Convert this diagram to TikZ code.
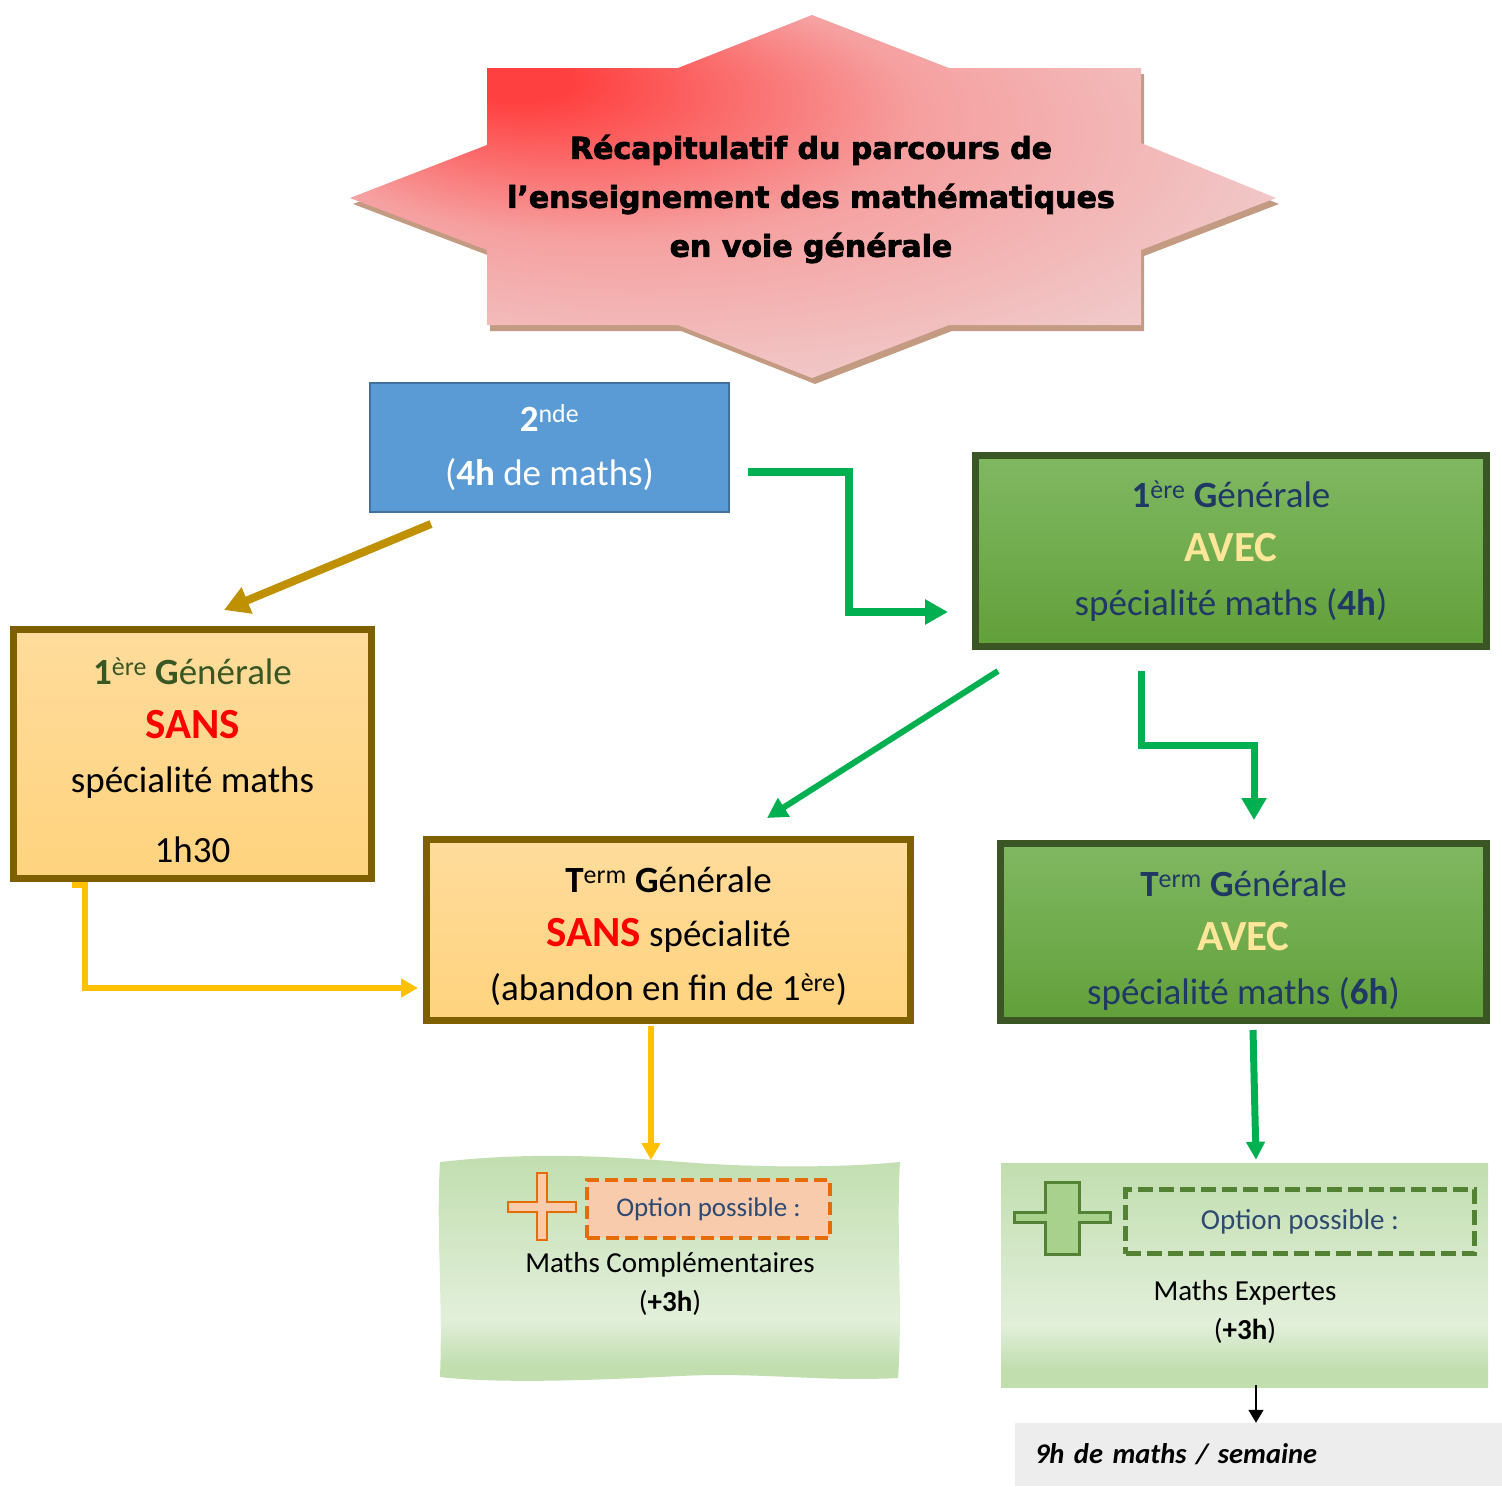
\documentclass[tikz,border=0pt]{standalone}
\usepackage{fontspec}
\setmainfont{Carlito}
\newfontfamily\titlefont{DejaVu Sans Bold}[FakeBold=2.6]
\usetikzlibrary{positioning}
\usetikzlibrary{arrows.meta}
\usetikzlibrary{calc}

\definecolor{bleuSeconde}{HTML}{5B9BD5}
\definecolor{bleuBord}{HTML}{41719C}
\definecolor{orangeHaut}{HTML}{FFDC9C}
\definecolor{orangeBas}{HTML}{FFD37E}
\definecolor{brunBord}{HTML}{7F6000}
\definecolor{vertHaut}{HTML}{80B862}
\definecolor{vertBas}{HTML}{62A03A}
\definecolor{vertBord}{HTML}{3B5524}
\definecolor{vertTexte}{HTML}{385723}
\definecolor{bleuTexte}{HTML}{1F3864}
\definecolor{bleuOption}{HTML}{2E4A70}
\definecolor{jauneAvec}{HTML}{FFE699}
\definecolor{vertFleche}{HTML}{00B050}
\definecolor{orFleche}{HTML}{BF9000}
\definecolor{jauneFleche}{HTML}{FFC000}
\definecolor{vertOpt}{HTML}{C1DEAF}
\definecolor{vertOptClair}{HTML}{E2EFDA}
\definecolor{peche}{HTML}{F8CBAD}
\definecolor{orangeOpt}{HTML}{E46C0A}
\definecolor{vertPlus}{HTML}{A9D18E}
\definecolor{vertPlusBord}{HTML}{548235}
\definecolor{gris}{HTML}{EDEDED}
\definecolor{rougeTitre}{HTML}{FF4040}
\definecolor{roseMilieu}{HTML}{F6A0A0}
\definecolor{roseTitre}{HTML}{F0CDCD}
\definecolor{ombre}{HTML}{C39B83}

\pgfdeclareradialshading{fondTitre}{\pgfpoint{-17bp}{17bp}}{color(0bp)=(rougeTitre); color(3bp)=(rougeTitre); color(17bp)=(roseMilieu); color(34bp)=(roseTitre); color(50bp)=(roseTitre)}
\pgfdeclareverticalshading{fondOption}{100bp}{color(0bp)=(vertOpt); color(29bp)=(vertOpt); color(39bp)=(vertOptClair); color(75bp)=(vertOpt); color(100bp)=(vertOpt)}

\newcommand{\expo}[1]{\textsuperscript{#1}}
\newcommand{\grand}[1]{{\fontsize{43}{54}\selectfont\textbf{#1}}}
\newcommand{\cale}[1]{\rule{0pt}{#1}}

\tikzset{
        node_base/.style={align=center, inner sep=0pt, font=\fontsize{37}{54}\selectfont},
        % Title in the star
        node_title/.style={align=center, inner sep=0pt, font=\titlefont\fontsize{30}{49}\selectfont},
        % Seconde
        node_seconde/.style={node_base, rectangle, draw=bleuBord, line width=2pt, fill=bleuSeconde, text=white},
        % Without maths speciality
        node_sans/.style={node_base, rectangle, draw=brunBord, line width=7pt, top color=orangeHaut, bottom color=orangeBas},
        % With maths speciality
        node_avec/.style={node_base, rectangle, draw=vertBord, line width=7pt, top color=vertHaut, bottom color=vertBas, text=bleuTexte},
        % Option area
        node_option/.style={rectangle, inner sep=0pt, shading=fondOption},
        node_option_text/.style={align=center, inner sep=0pt, font=\fontsize{29}{39}\selectfont},
        % Dashed option labels
        node_dashed_orange/.style={rectangle, inner sep=0pt, draw=orangeOpt, fill=peche, line width=4pt, dash pattern=on 13pt off 6pt, text=bleuOption, font=\fontsize{27}{32}\selectfont},
        node_dashed_green/.style={rectangle, inner sep=0pt, draw=vertPlusBord, line width=5pt, dash pattern=on 15pt off 6pt, text=bleuOption, font=\fontsize{29}{34}\selectfont},
        % Total
        node_total/.style={rectangle, inner sep=0pt, inner xsep=20pt, fill=gris, align=left, font=\fontsize{28.5}{34}\selectfont},
        % Arrows
        arrow_gold/.style={draw=orFleche, line width=8pt, -{Triangle[length=25pt,width=27pt]}},
        arrow_green/.style={draw=vertFleche, line width=8pt, -{Triangle[length=23pt,width=24pt]}},
        arrow_yellow/.style={draw=jauneFleche, line width=6pt, -{Triangle[length=17pt,width=18pt]}},
        arrow_black/.style={draw=black, line width=1.5pt, -{Triangle[length=13pt,width=15pt]}}
}

\begin{document}
\begin{tikzpicture}[x=1pt, y=-1pt]
    \useasboundingbox (0,0) rectangle (1502,1486);

    % star
    \fill[ombre, shift={(3,6)}] (487,68) -- (678,68) -- (812,15) -- (949,68) -- (1141,68) -- (1141,143) -- (1276,198) -- (1141,250) -- (1141,325) -- (949,325) -- (812,378) -- (678,325) -- (487,325) -- (487,250) -- (350,198) -- (487,145) -- cycle;
    \shade[shading=fondTitre] (487,68) -- (678,68) -- (812,15) -- (949,68) -- (1141,68) -- (1141,143) -- (1276,198) -- (1141,250) -- (1141,325) -- (949,325) -- (812,378) -- (678,325) -- (487,325) -- (487,250) -- (350,198) -- (487,145) -- cycle;
    \node[node_title] (titre) at (811,199) {Récapitulatif du parcours de\\l’enseignement des mathématiques\\en voie générale};

    \node[node_seconde, minimum width=359pt, minimum height=129pt] (seconde) at (549.5,447.5)
        {\textbf{2}\expo{nde}\\(\textbf{4h} de maths)};
    \node[node_sans, minimum width=358pt, minimum height=249pt] (premiere_sans) at (192.5,754)
        {\cale{39pt}\textcolor{vertTexte}{\textbf{1}\expo{ère} \textbf{G}énérale}\\\textcolor{red}{\grand{SANS}}\\spécialité maths\\[16pt]1h30};
    \node[node_avec, minimum width=511pt, minimum height=191pt] (premiere_avec) at (1231,551)
        {\textbf{1}\expo{ère} \textbf{G}énérale\\\textcolor{jauneAvec}{\grand{AVEC}}\\spécialité maths (\textbf{4h})};
    \node[node_sans, minimum width=484pt, minimum height=181pt] (terminale_sans) at (668.5,930)
        {\cale{39pt}\textbf{T}\expo{erm} \textbf{G}énérale\\\textcolor{red}{\grand{SANS}} spécialité\\(abandon en fin de 1\expo{ère})};
    \node[node_avec, minimum width=486pt, minimum height=177pt] (terminale_avec) at (1243.5,932)
        {\cale{42pt}\textbf{T}\expo{erm} \textbf{G}énérale\\\textcolor{jauneAvec}{\grand{AVEC}}\\spécialité maths (\textbf{6h})};

    % left option
    \shade[shading=fondOption] (440,1162) .. controls (530,1152) and (600,1156) .. (670,1161) .. controls (750,1168) and (840,1168) .. (900,1162) .. controls (896,1230) and (903,1310) .. (898,1378) .. controls (820,1382) and (760,1372) .. (680,1376) .. controls (600,1380) and (500,1384) .. (440,1377) .. controls (443,1300) and (436,1230) .. (440,1162) -- cycle;
    \coordinate (haut_vague) at (651,1160);
    \filldraw[fill=peche, draw=orangeOpt, line width=2.5pt] (537,1173) -- (547,1173) -- (547,1202) -- (576,1202) -- (576,1212) -- (547,1212) -- (547,1240) -- (537,1240) -- (537,1212) -- (508,1212) -- (508,1202) -- (537,1202) -- cycle;
    \node[node_dashed_orange, minimum width=243pt, minimum height=58pt] (option_gauche) at (708.5,1209) {Option possible :};
    \node[node_option_text] (complementaires) at (670,1284) {Maths Complémentaires\\(\textbf{+3h})};

    % right option
    \node[node_option, minimum width=487pt, minimum height=224pt] (option_droite) at (1244.5,1275) {};
    \filldraw[fill=vertPlus, draw=vertPlusBord, line width=3pt] (1045,1182) -- (1079,1182) -- (1079,1212) -- (1110,1212) -- (1110,1222) -- (1079,1222) -- (1079,1254) -- (1045,1254) -- (1045,1222) -- (1014,1222) -- (1014,1212) -- (1045,1212) -- cycle;
    \node[node_dashed_green, minimum width=349pt, minimum height=64pt] (option_droite_titre) at (1300,1221.5) {Option possible :};
    \node[node_option_text] (expertes) at (1245,1312) {Maths Expertes\\(\textbf{+3h})};

    \node[node_total, minimum width=487pt, minimum height=63pt, text width=447pt] (neuf_heures) at (1258.5,1454.5)
        {\textbf{\textit{9h de maths / semaine}}};

    % arrows
    \draw[arrow_gold] ($(seconde.south)+(-118.5,11)$) -- ($(premiere_sans.north)+(31.5,-16)$);
    \draw[arrow_green] ($(seconde.east)+(18,24.5)$) -- ++(101,0) |- ($(premiere_avec.west)+(-24,61)$);
    \draw[arrow_green, line width=6pt, -{Triangle[length=20pt,width=21pt]}] ($(premiere_avec.south west)+(26,21)$) -- ($(terminale_sans.north)+(98.5,-18)$);
    \draw[arrow_green, line width=7pt, -{Triangle[length=22pt,width=24pt]}] ($(premiere_avec.south)+(-90,21)$) -- ++(0,74) -| ($(terminale_avec.north)+(10.5,-20)$);
    \draw[arrow_yellow] ($(premiere_sans.south west)+(62,3)$) -- ++(12.5,0) |- ($(terminale_sans.west)+(-5,58)$);
    \draw[arrow_yellow] ($(terminale_sans.south)+(-17.5,2)$) -- (haut_vague);
    \draw[arrow_green, line width=7pt, -{Triangle[length=18pt,width=18pt]}] ($(terminale_avec.south)+(9.5,6)$) -- ($(option_droite.north)+(11.5,-3)$);
    \draw[arrow_black] ($(option_droite.south)+(11.5,-2)$) -- ($(neuf_heures.north)+(-2.5,0)$);
\end{tikzpicture}
\end{document}
